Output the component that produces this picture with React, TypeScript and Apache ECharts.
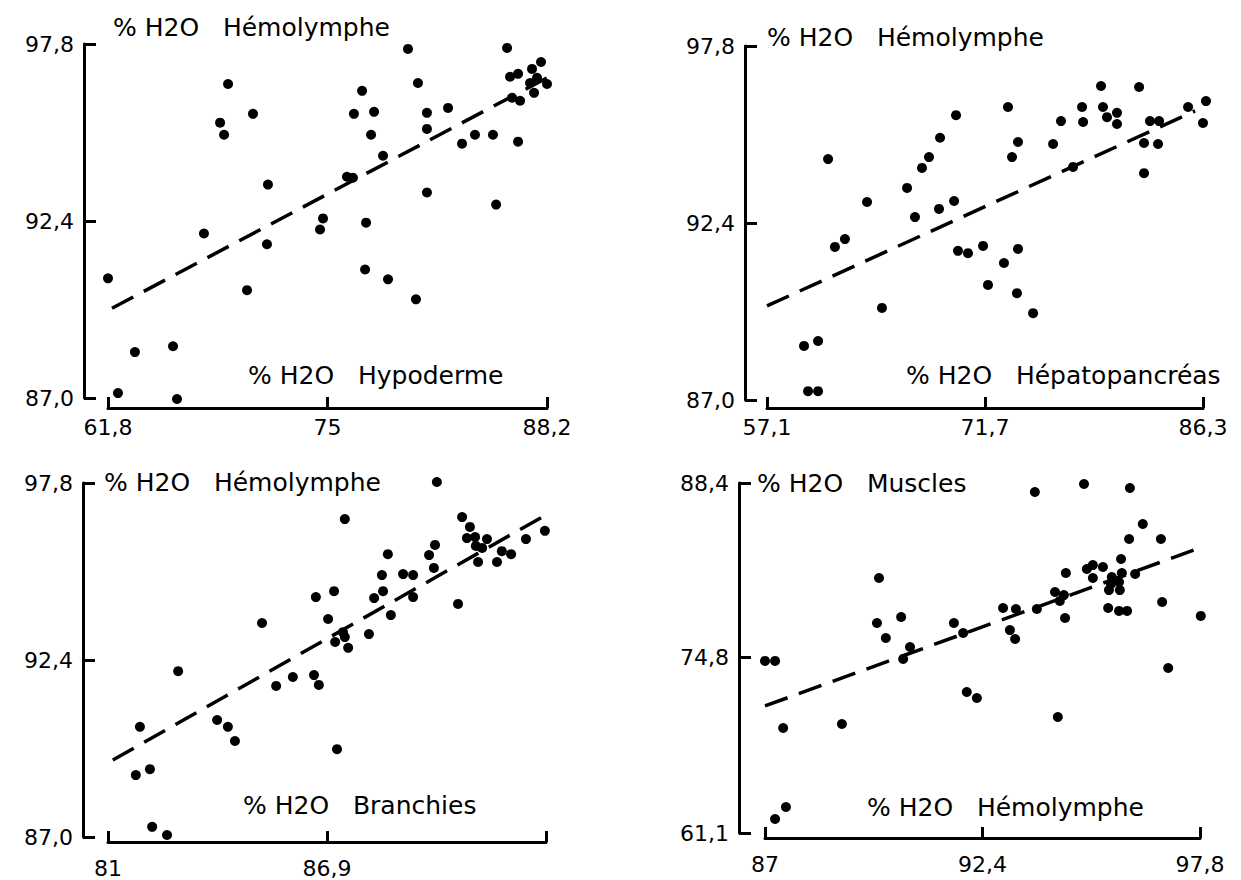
import React, { useEffect, useRef } from "react";
import * as echarts from "echarts";

// ---------- Panel 1 : Hémolymphe vs Hypoderme ----------
const hypoderme = [61.8, 62.4, 63.42, 65.71, 65.95, 67.57, 68.54, 68.78, 69.02, 70.52, 70.16, 71.42, 71.36, 79.84, 80.44, 77.08, 76.59, 77.8, 77.62, 78.34, 76.17, 76.53, 80.98, 80.98, 82.25, 83.09, 83.87, 84.95, 85.8, 86.1, 86.58, 86.46, 85.98, 86.46, 87.3, 87.84, 87.18, 87.6, 87.42, 88.2, 80.98, 74.73, 74.55, 77.32, 77.26, 78.64, 80.32, 85.14];
const hemoVsHypoderme = [90.65, 87.15, 88.4, 88.58, 86.97, 92.02, 95.4, 95.03, 96.58, 95.67, 90.29, 93.51, 91.69, 97.65, 96.61, 96.37, 95.67, 95.73, 95.03, 94.39, 93.75, 93.72, 95.7, 95.21, 95.85, 94.76, 95.03, 95.03, 97.68, 96.16, 96.07, 94.82, 96.8, 96.89, 97.04, 97.25, 96.61, 96.77, 96.31, 96.58, 93.27, 92.48, 92.14, 92.35, 90.92, 90.62, 90.01, 92.9];
const fitHypodermeX = [62.04, 88.99];
const fitHypodermeY = [89.74, 96.98];

// ---------- Panel 2 : Hémolymphe vs Hépatopancréas ----------
const hepato = [61.19, 63.8, 66.48, 67.48, 67.95, 67.01, 61.65, 62.32, 64.8, 59.58, 60.52, 59.85, 60.52, 68.69, 69.76, 68.62, 69.63, 69.89, 70.56, 71.57, 72.97, 73.91, 71.9, 73.84, 74.92, 73.24, 73.91, 73.51, 76.26, 76.79, 78.2, 78.27, 77.6, 79.47, 79.6, 79.87, 80.54, 80.54, 82.02, 82.75, 83.36, 82.35, 83.29, 82.35, 85.3, 86.5, 86.3];
const hemoVsHepato = [94.35, 93.04, 93.47, 94.08, 94.41, 92.58, 91.67, 91.91, 89.81, 88.65, 88.8, 87.27, 87.27, 95.0, 95.69, 92.83, 93.07, 91.55, 91.48, 91.7, 91.18, 91.61, 90.51, 90.26, 89.65, 95.94, 94.87, 94.41, 94.81, 95.51, 95.94, 95.48, 94.11, 96.58, 95.94, 95.63, 95.76, 95.42, 96.55, 95.51, 95.51, 94.84, 94.81, 93.92, 95.94, 96.12, 95.45];
const fitHepatoX = [57.1, 85.77];
const fitHepatoY = [89.87, 95.82];

// ---------- Panel 3 : Hémolymphe vs Branchies ----------
const branchies = [81.86, 81.75, 82.13, 82.19, 82.59, 82.89, 83.94, 84.23, 84.42, 85.15, 85.53, 85.98, 89.86, 87.38, 90.54, 90.75, 90.67, 90.89, 91.21, 90.91, 91.08, 90.97, 91.48, 91.61, 91.86, 92.26, 92.77, 90.43, 89.81, 89.65, 89.78, 88.54, 88.38, 88.95, 89.22, 89.22, 88.41, 88.17, 88.62, 86.6, 87.09, 86.93, 87.12, 87.38, 87.47, 87.33, 88.03, 86.55, 86.68, 87.17];
const hemoVsBranchies = [90.36, 88.89, 89.07, 87.31, 87.06, 92.06, 90.57, 90.36, 89.93, 93.53, 91.61, 91.88, 97.83, 96.7, 96.76, 96.46, 96.12, 96.15, 96.09, 95.88, 95.82, 95.39, 95.39, 95.72, 95.63, 96.09, 96.34, 94.11, 95.91, 95.6, 95.21, 95.63, 94.99, 95.02, 94.99, 94.32, 94.5, 94.29, 93.77, 94.32, 94.5, 93.65, 92.95, 93.1, 92.77, 93.25, 93.19, 91.94, 91.64, 89.68];
const fitBranchiesX = [81.13, 92.88];
const fitBranchiesY = [89.35, 96.88];

// ---------- Panel 4 : Muscles vs Hémolymphe ----------
const hemolymphe = [87.0, 87.25, 87.45, 87.52, 87.25, 88.91, 89.83, 89.78, 90.0, 90.38, 90.6, 90.43, 93.7, 94.92, 96.06, 96.38, 96.04, 96.83, 95.84, 96.19, 95.14, 95.39, 94.99, 94.47, 95.61, 95.86, 95.59, 95.79, 95.54, 95.81, 95.14, 94.2, 94.42, 94.32, 94.45, 93.75, 92.91, 93.23, 93.08, 93.21, 91.69, 91.92, 95.52, 95.79, 95.99, 96.86, 97.82, 97.01, 92.01, 92.26, 94.27];
const muscles = [74.52, 74.52, 69.29, 63.13, 62.19, 69.6, 80.99, 77.48, 76.31, 77.95, 75.61, 74.67, 87.7, 88.32, 88.01, 85.2, 84.03, 84.03, 82.47, 81.3, 82.0, 81.85, 81.69, 81.38, 81.07, 81.38, 80.52, 80.68, 80.05, 80.05, 80.99, 79.9, 79.66, 79.2, 77.87, 78.57, 78.65, 78.57, 76.93, 76.23, 77.48, 76.7, 78.65, 78.42, 78.42, 79.12, 78.03, 73.97, 72.1, 71.63, 70.15];
const fitMusclesX = [87.0, 97.72];
const fitMusclesY = [71.01, 83.25];

// ---------- Ticks ----------
const xTicks1 = [61.8, 75, 88.2];
const xTickLabels1 = ["61,8", "75", "88,2"];
const xTicks2 = [57.1, 71.7, 86.3];
const xTickLabels2 = ["57,1", "71,7", "86,3"];
const xTicks3 = [81, 86.9, 92.8];
const xTickLabels3 = ["81", "86,9", ""];
const xTicks4 = [87, 92.4, 97.8];
const xTickLabels4 = ["87", "92,4", "97,8"];
const yTicksHemo = [87.0, 92.4, 97.8];
const yTickLabelsHemo = ["87,0", "92,4", "97,8"];
const yTicks4 = [61.1, 74.8, 88.4];
const yTickLabels4 = ["61,1", "74,8", "88,4"];

const yNameHemo = "% H2O   Hémolymphe";
const xName1 = "% H2O   Hypoderme";
const xName2 = "% H2O   Hépatopancréas";
const xName3 = "% H2O   Branchies";
const yName4 = "% H2O   Muscles";
const xName4 = "% H2O   Hémolymphe";

const FONT = "DejaVu Sans";

const zip = (a: number[], b: number[]) => a.map((v, i) => [v, b[i]]);

type Panel = {
  xs: number[];
  ys: number[];
  fx: number[];
  fy: number[];
  xTicks: number[];
  xLabels: string[];
  yTicks: number[];
  yLabels: string[];
  grid: { left: number; top: number; width: number; height: number };
  yOffset: number;
  xOffset: number;
  xLabelMargin: number;
  yName: string;
  xName: string;
  yNamePos: [number, number];
  xNamePos: [number, number];
};

const panels: Panel[] = [
  {
    xs: hypoderme, ys: hemoVsHypoderme, fx: fitHypodermeX, fy: fitHypodermeY,
    xTicks: xTicks1, xLabels: xTickLabels1, yTicks: yTicksHemo, yLabels: yTickLabelsHemo,
    grid: { left: 108, top: 44, width: 439, height: 354 }, yOffset: 24, xOffset: 10, xLabelMargin: 8,
    yName: yNameHemo, xName: xName1, yNamePos: [113, 27], xNamePos: [248, 375],
  },
  {
    xs: hepato, ys: hemoVsHepato, fx: fitHepatoX, fy: fitHepatoY,
    xTicks: xTicks2, xLabels: xTickLabels2, yTicks: yTicksHemo, yLabels: yTickLabelsHemo,
    grid: { left: 767, top: 46, width: 436, height: 354 }, yOffset: 22, xOffset: 8, xLabelMargin: 8,
    yName: yNameHemo, xName: xName2, yNamePos: [767, 37], xNamePos: [906, 375],
  },
  {
    xs: branchies, ys: hemoVsBranchies, fx: fitBranchiesX, fy: fitBranchiesY,
    xTicks: xTicks3, xLabels: xTickLabels3, yTicks: yTicksHemo, yLabels: yTickLabelsHemo,
    grid: { left: 108, top: 483, width: 438, height: 354 }, yOffset: 25, xOffset: 5, xLabelMargin: 15,
    yName: yNameHemo, xName: xName3, yNamePos: [104, 482], xNamePos: [243, 805],
  },
  {
    xs: hemolymphe, ys: muscles, fx: fitMusclesX, fy: fitMusclesY,
    xTicks: xTicks4, xLabels: xTickLabels4, yTicks: yTicks4, yLabels: yTickLabels4,
    grid: { left: 765, top: 483, width: 435, height: 350 }, yOffset: 26, xOffset: 5, xLabelMargin: 15,
    yName: yName4, xName: xName4, yNamePos: [757, 483], xNamePos: [867, 807],
  },
];

const labelFor = (ticks: number[], labels: string[]) => (v: number) => {
  const i = ticks.findIndex((t) => Math.abs(t - v) < 1e-6);
  return i >= 0 ? labels[i] : "";
};

function buildOption() {
  const axisLine = { show: true, onZero: false, lineStyle: { color: "#000", width: 3 } };
  const tickStyle = { color: "#000", width: 3 };
  return {
    animation: false,
    backgroundColor: "#fff",
    grid: panels.map((p) => ({ ...p.grid })),
    xAxis: panels.map((p, i) => ({
      type: "value",
      gridIndex: i,
      min: p.xTicks[0],
      max: p.xTicks[2],
      offset: p.xOffset,
      axisLine,
      axisTick: { show: true, inside: true, length: 11, customValues: p.xTicks, lineStyle: tickStyle },
      axisLabel: {
        customValues: p.xTicks.filter((_, k) => p.xLabels[k] !== ""),
        formatter: labelFor(p.xTicks, p.xLabels),
        color: "#000",
        fontSize: 22,
        fontFamily: FONT,
        margin: p.xLabelMargin,
      },
      splitLine: { show: false },
    })),
    yAxis: panels.map((p, i) => ({
      type: "value",
      gridIndex: i,
      min: p.yTicks[0],
      max: p.yTicks[2],
      offset: p.yOffset,
      axisLine,
      axisTick: { show: true, inside: true, length: 12, customValues: p.yTicks, lineStyle: tickStyle },
      axisLabel: {
        customValues: p.yTicks,
        formatter: labelFor(p.yTicks, p.yLabels),
        color: "#000",
        fontSize: 22,
        fontFamily: FONT,
        margin: 10,
      },
      splitLine: { show: false },
    })),
    series: panels.flatMap((p, i) => [
      {
        type: "scatter",
        xAxisIndex: i,
        yAxisIndex: i,
        data: zip(p.xs, p.ys),
        symbolSize: 10,
        itemStyle: { color: "#000", opacity: 1 },
        clip: false,
        silent: true,
      },
      {
        type: "line",
        xAxisIndex: i,
        yAxisIndex: i,
        data: zip(p.fx, p.fy),
        symbol: "none",
        showSymbol: false,
        lineStyle: { color: "#000", width: 3.5, type: [24, 12], opacity: 1 },
        clip: false,
        silent: true,
      },
    ]),
    graphic: panels.flatMap((p) => [
      {
        type: "text",
        x: p.yNamePos[0],
        y: p.yNamePos[1],
        style: { text: p.yName, fill: "#000", font: `25px "${FONT}"`, verticalAlign: "middle", textVerticalAlign: "middle" },
      },
      {
        type: "text",
        x: p.xNamePos[0],
        y: p.xNamePos[1],
        style: { text: p.xName, fill: "#000", font: `25px "${FONT}"`, verticalAlign: "middle", textVerticalAlign: "middle" },
      },
    ]),
  };
}

export default function App() {
  const ref = useRef<HTMLDivElement>(null);
  useEffect(() => {
    if (!ref.current) return;
    const chart = echarts.init(ref.current, undefined, { renderer: "svg" });
    chart.setOption(buildOption() as any);
    return () => chart.dispose();
  }, []);
  return (
    <div
      ref={ref}
      style={{ position: "absolute", left: 0, top: 0, width: 1241, height: 880, background: "#fff" }}
    />
  );
}
